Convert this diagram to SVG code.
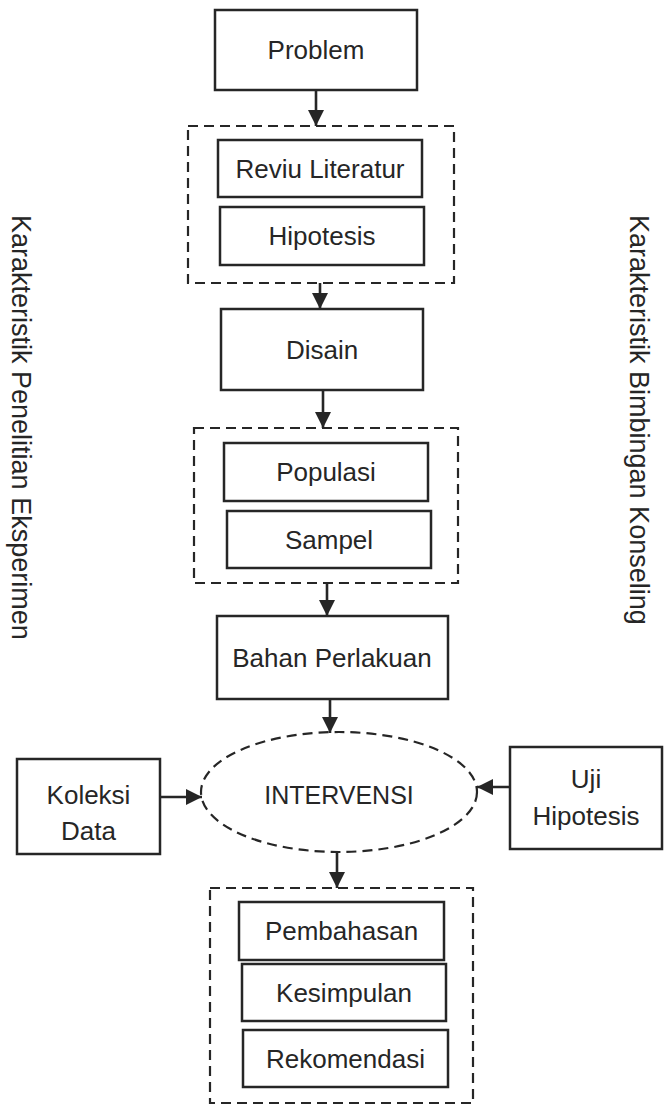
<svg xmlns="http://www.w3.org/2000/svg" width="668" height="1107" viewBox="0 0 668 1107">
<defs>
<style>
.box{fill:#fff;stroke:#262626;stroke-width:2.5}
.grp{fill:none;stroke:#262626;stroke-width:2.2;stroke-dasharray:10 6}
.t{font-family:"Liberation Sans",Arial,sans-serif;font-size:26px;fill:#262626;text-anchor:middle}
.side{font-family:"Liberation Sans",Arial,sans-serif;font-size:27px;fill:#262626}
.ar{stroke:#262626;stroke-width:2.6;fill:none;marker-end:url(#ah)}
</style>
<marker id="ah" viewBox="0 0 10 10" refX="10" refY="5" markerWidth="6.2" markerHeight="6.2" markerUnits="strokeWidth" orient="auto">
<path d="M0,0 L10,5 L0,10 z" fill="#262626"/>
</marker>
</defs>
<rect width="668" height="1107" fill="#fff"/>

<g id="side-left"><text class="side" transform="translate(12,215) rotate(90)">Karakteristik Penelitian Eksperimen</text></g>
<g id="side-right"><text class="side" transform="translate(630,215) rotate(90)">Karakteristik Bimbingan Konseling</text></g>

<g id="problem"><rect class="box" x="215" y="10" width="202" height="80"/><text class="t" x="316" y="59">Problem</text></g>

<g id="group-1"><rect class="grp" x="188" y="126" width="266" height="157"/>
<g id="reviu"><rect class="box" x="218" y="140" width="204" height="57"/><text class="t" x="320" y="178">Reviu Literatur</text></g>
<g id="hipotesis"><rect class="box" x="220" y="207" width="204" height="58"/><text class="t" x="322" y="245">Hipotesis</text></g>
</g>

<g id="disain"><rect class="box" x="221" y="309" width="202" height="81"/><text class="t" x="322" y="359">Disain</text></g>

<g id="group-2"><rect class="grp" x="194" y="428" width="264" height="155"/>
<g id="populasi"><rect class="box" x="224" y="443" width="204" height="58"/><text class="t" x="326" y="481">Populasi</text></g>
<g id="sampel"><rect class="box" x="227" y="511" width="204" height="57"/><text class="t" x="329" y="549">Sampel</text></g>
</g>

<g id="bahan"><rect class="box" x="217" y="616" width="231" height="83"/><text class="t" x="332" y="667">Bahan Perlakuan</text></g>

<g id="intervensi"><ellipse class="grp" cx="339" cy="792" rx="138" ry="60"/><text class="t" x="339" y="804" style="font-size:25px">INTERVENSI</text></g>

<g id="koleksi"><rect class="box" x="17" y="759" width="143" height="95"/><text class="t" x="88.5" y="804">Koleksi</text><text class="t" x="88.5" y="840">Data</text></g>

<g id="uji"><rect class="box" x="510" y="747" width="152" height="102"/><text class="t" x="586" y="788">Uji</text><text class="t" x="586" y="825">Hipotesis</text></g>

<g id="group-3"><rect class="grp" x="210" y="888" width="263" height="215"/>
<g id="pembahasan"><rect class="box" x="239" y="902" width="205" height="58"/><text class="t" x="341.5" y="940">Pembahasan</text></g>
<g id="kesimpulan"><rect class="box" x="242" y="964" width="204" height="57"/><text class="t" x="344" y="1002">Kesimpulan</text></g>
<g id="rekomendasi"><rect class="box" x="243" y="1030" width="205" height="57"/><text class="t" x="345.5" y="1068">Rekomendasi</text></g>
</g>

<g id="connectors">
<line class="ar" x1="316" y1="90" x2="316" y2="126"/>
<line class="ar" x1="320" y1="283" x2="320" y2="309"/>
<line class="ar" x1="323" y1="390" x2="323" y2="428"/>
<line class="ar" x1="327" y1="583" x2="327" y2="616"/>
<line class="ar" x1="330" y1="699" x2="330" y2="733"/>
<line class="ar" x1="160" y1="797" x2="202" y2="797"/>
<line class="ar" x1="510" y1="787" x2="477" y2="787"/>
<line class="ar" x1="337" y1="852" x2="337" y2="888"/>
</g>
</svg>
